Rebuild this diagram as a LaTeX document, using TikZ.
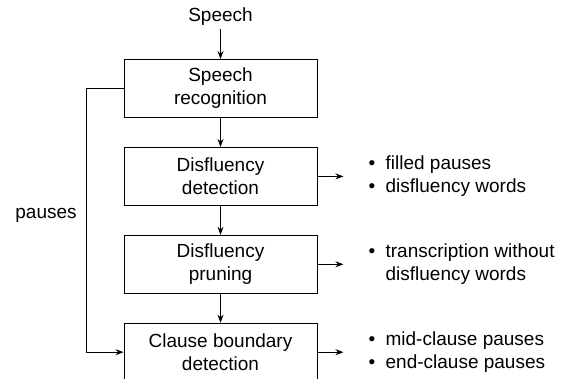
\documentclass[tikz,border=0pt]{standalone}
\usepackage{fontspec}
\setmainfont{Liberation Sans}
\usetikzlibrary{positioning,arrows.meta}

% one bullet line of an output list
\newcommand{\outitem}[1]{\makebox[17pt][l]{\textbullet}#1}

\begin{document}
\begin{tikzpicture}[x = 1pt, y = 1pt, node distance = 29pt,
    every node/.style = {font = \fontsize{19}{23}\selectfont},
    stage/.style = {draw, line width = 0.9pt, minimum width = 193pt,
      minimum height = 58pt, align = center},
    outlist/.style = {anchor = west, align = left, inner sep = 0pt},
    flow/.style = {-{Stealth[length = 8pt, width = 6pt]}, line width = 1.1pt}]
  \useasboundingbox (0,0) rectangle (568,378);

  % the pipeline stages
  \node[stage] (recog) at (220.5,289.5) {Speech\\recognition};
  \node[stage, below = of recog] (detect) {Disfluency\\detection};
  \node[stage, below = of detect] (prune) {Disfluency\\pruning};
  \node[stage, below = of prune] (clause) {Clause boundary\\detection};

  % input on top
  \node (speech) at (220.5,361) {Speech};

  % outputs on the right
  \node[outlist] (detectout) at ([xshift = 51pt] detect.east)
    {\outitem{filled pauses}\\\outitem{disfluency words}};
  \node[outlist] (pruneout) at ([xshift = 51pt] prune.east)
    {\outitem{transcription without}\\\hspace{17pt}disfluency words};
  \node[outlist] (clauseout) at ([xshift = 51pt] clause.east)
    {\outitem{mid-clause pauses}\\\outitem{end-clause pauses}};

  % main flow
  \draw[flow] (speech) -- (recog);
  \draw[flow] (recog) -- (detect);
  \draw[flow] (detect) -- (prune);
  \draw[flow] (prune) -- (clause);

  % side outputs
  \foreach \src in {detect, prune, clause}
    \draw[flow, shorten > = 25pt] (\src.east) -- (\src out.west);

  % pauses go straight to the last stage
  \draw[flow] (recog.west) -- ++(-37,0) coordinate (bend)
    |- node[pos = 0.24, left = 6pt] (pauses) {pauses} (clause.west);
\end{tikzpicture}
\end{document}
